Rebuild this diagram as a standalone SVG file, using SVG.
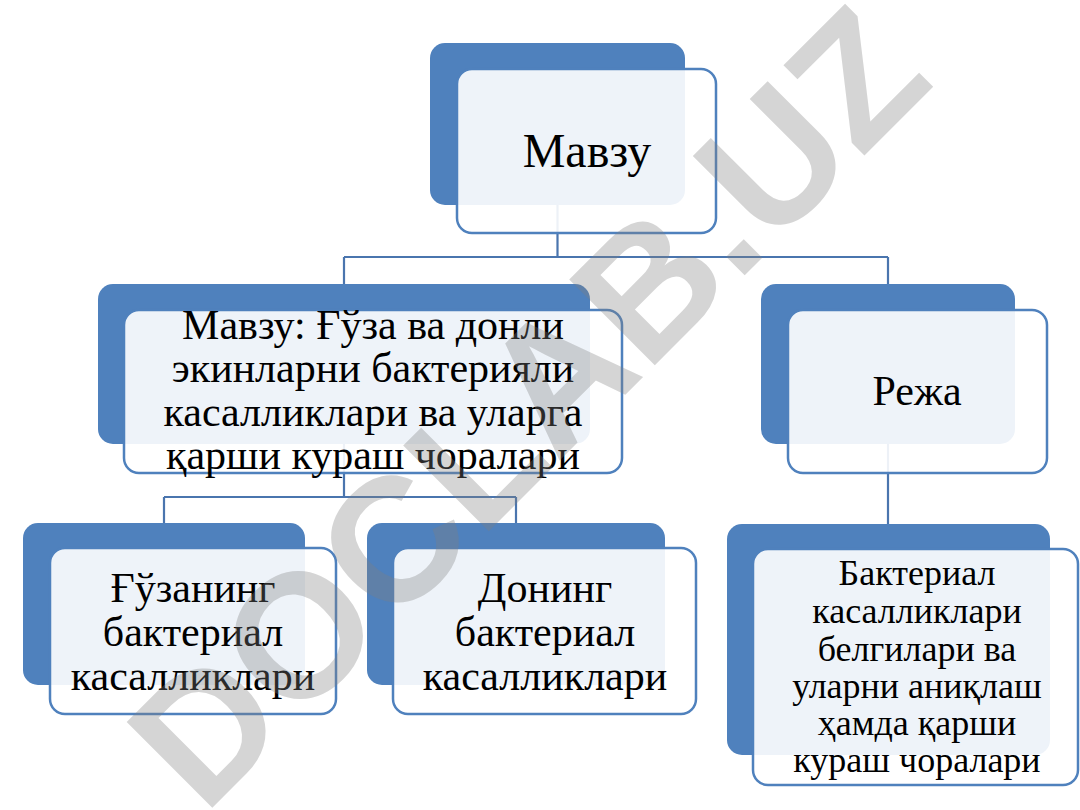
<svg xmlns="http://www.w3.org/2000/svg" width="1080" height="810" viewBox="0 0 1080 810">
<style>
.back{fill:#4F81BD;}
.front{fill:#FFFFFF;fill-opacity:0.9;stroke:#4F81BD;stroke-width:2.5;}
.conn{fill:none;stroke:#4A75AE;stroke-width:2.2;}
</style>
<rect width="1080" height="810" fill="#FFFFFF"/>
<g id="connectors">
<path class="conn" d="M557.5,205 V257 M344,257 H888 M344,257 V285 M888,257 V285"/>
<path class="conn" d="M344,444 V497 M164,497 H516 M164,497 V524 M516,497 V524"/>
<path class="conn" d="M888,444 V524"/>
</g>
<g id="node-root">
<rect class="back" x="430" y="43" width="255" height="162" rx="15"/>
<rect class="front" x="457" y="69" width="259" height="164" rx="15"/>
<text x="587" y="167" font-size="48" font-family="Liberation Serif, serif" text-anchor="middle" fill="#000">Мавзу</text>
</g>
<g id="node-topic">
<rect class="back" x="98" y="284" width="492" height="160" rx="15"/>
<rect class="front" x="124" y="310" width="498" height="163" rx="15"/>
<text font-size="42" font-family="Liberation Serif, serif" text-anchor="middle" fill="#000"><tspan x="373" y="339">Мавзу: Ғўза ва донли</tspan><tspan x="373" y="382">экинларни бактерияли</tspan><tspan x="373" y="426">касалликлари ва уларга</tspan><tspan x="373" y="469">қарши кураш чоралари</tspan></text>
</g>
<g id="node-plan">
<rect class="back" x="761" y="284" width="254" height="160" rx="15"/>
<rect class="front" x="788" y="310" width="259" height="163" rx="15"/>
<text x="917" y="405" font-size="42" font-family="Liberation Serif, serif" text-anchor="middle" fill="#000">Режа</text>
</g>
<g id="node-cotton">
<rect class="back" x="23" y="523" width="282" height="162" rx="15"/>
<rect class="front" x="50" y="548" width="286" height="166" rx="15"/>
<text font-size="42" font-family="Liberation Serif, serif" text-anchor="middle" fill="#000"><tspan x="193" y="602">Ғўзанинг</tspan><tspan x="193" y="646">бактериал</tspan><tspan x="193" y="690">касалликлари</tspan></text>
</g>
<g id="node-grain">
<rect class="back" x="367" y="523" width="298" height="162" rx="15"/>
<rect class="front" x="393" y="548" width="303" height="166" rx="15"/>
<text font-size="42" font-family="Liberation Serif, serif" text-anchor="middle" fill="#000"><tspan x="545" y="602">Донинг</tspan><tspan x="545" y="646">бактериал</tspan><tspan x="545" y="690">касалликлари</tspan></text>
</g>
<g id="node-signs">
<rect class="back" x="727" y="524" width="323" height="231" rx="15"/>
<rect class="front" x="753" y="549" width="325" height="236" rx="15"/>
<text font-size="36" font-family="Liberation Serif, serif" text-anchor="middle" fill="#000"><tspan x="917" y="585">Бактериал</tspan><tspan x="917" y="623">касалликлари</tspan><tspan x="917" y="661">белгилари ва</tspan><tspan x="917" y="698">уларни аниқлаш</tspan><tspan x="917" y="735">ҳамда қарши</tspan><tspan x="917" y="772">кураш чоралари</tspan></text>
</g>
<text x="0" y="0" font-family="Liberation Sans, sans-serif" font-weight="bold" font-size="176" fill="#808080" fill-opacity="0.33" transform="translate(204,816) rotate(-45)">DOCLAB.UZ</text>
</svg>
